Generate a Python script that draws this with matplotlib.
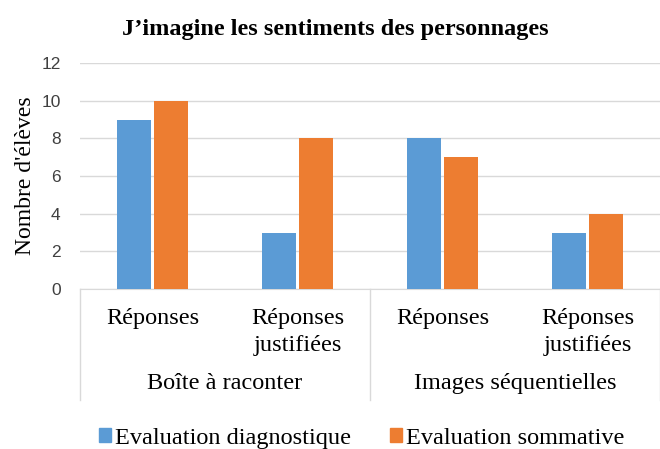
import matplotlib
matplotlib.use("Agg")
import matplotlib.pyplot as plt
from matplotlib.patches import Patch
import numpy as np

title = "J\u2019imagine les sentiments des personnages"
ylabel = "Nombre d'élèves"
sub_labels = ["Réponses", "Réponses\njustifiées", "Réponses", "Réponses\njustifiées"]
group_labels = ["Boîte à raconter", "Images séquentielles"]
series_names = ["Evaluation diagnostique", "Evaluation sommative"]
diagnostique = [9, 3, 8, 3]
sommative = [10, 8, 7, 4]
yticks = [0, 2, 4, 6, 8, 10, 12]

blue = "#5B9BD5"
orange = "#ED7D31"
serif = "Liberation Serif"
sans = "Liberation Sans"

fig = plt.figure(figsize=(6.6, 4.49), dpi=100)
ax = fig.add_axes([0.1212, 0.3563, 0.8788, 0.5034])

x = np.arange(len(sub_labels))
w = 0.235
off = 0.13
ax.bar(x - off, diagnostique, w, color=blue, zorder=3)
ax.bar(x + off, sommative, w, color=orange, zorder=3)

ax.set_xlim(-0.5, 3.5)
ax.set_ylim(0, 12)
ax.set_yticks(yticks)
ax.set_yticklabels([str(t) for t in yticks], family=sans, fontsize=12.5, color="#404040")
ax.tick_params(axis="y", length=0, pad=14)
ax.set_xticks([])
ax.grid(axis="y", color="#D9D9D9", linewidth=1, zorder=0)
for s in ["top", "right", "left"]:
    ax.spines[s].set_visible(False)
ax.spines["bottom"].set_color("#D9D9D9")

ax.set_ylabel(ylabel, family=serif, fontsize=17, labelpad=4)
fig.text(0.508, 0.935, title, family=serif, fontsize=17.5, fontweight="bold",
         ha="center", va="center")

trans = ax.get_xaxis_transform()
for xs in [-0.5, 1.5, 3.5]:
    ax.plot([xs, xs], [0, -0.49], transform=trans, color="#D9D9D9", lw=1, clip_on=False)

for i, lab in enumerate(sub_labels):
    ax.text(i, -0.085, lab, transform=trans, ha="center", va="top", family=serif,
            fontsize=17.5, linespacing=1.35)
for g, lab in enumerate(group_labels):
    ax.text(0.5 + 2 * g, -0.42, lab, transform=trans, ha="center", va="center",
            family=serif, fontsize=17.5)

handles = [Patch(color=blue), Patch(color=orange)]
fig.legend(handles, series_names, loc="center", bbox_to_anchor=(0.548, 0.024), ncol=2,
           frameon=False, prop={"family": serif, "size": 17.5}, handlelength=0.5,
           handleheight=0.5, handletextpad=0.15, columnspacing=1.6)

fig.savefig("out.png", dpi=100)
